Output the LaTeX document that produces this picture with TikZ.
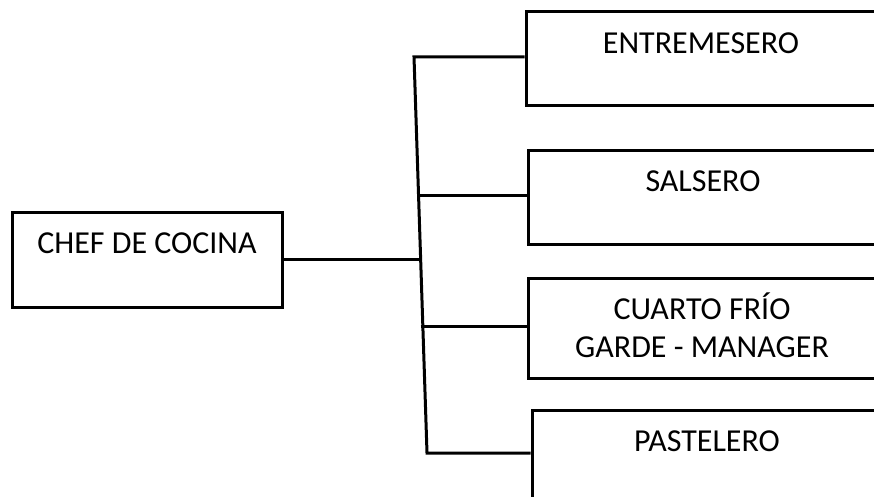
\documentclass[tikz,border=0pt]{standalone}
\usepackage{fontspec}
\setmainfont{Carlito}
\usepackage{tikz}
\usetikzlibrary{calc, positioning}

\begin{document}
\begin{tikzpicture}[
    x=1pt, y=-1pt,
    line/.style={line width=3pt},
    box/.style={rectangle, draw, line width=3pt, inner sep=0pt},
    lbl/.style={inner sep=0pt, anchor=base, align=center,
                font=\fontsize{32}{38}\selectfont}
]
    \clip (0,0) rectangle (874,497);
    \fill[white] (0,0) rectangle (874,497);

    % Chef
    \node[box, minimum width=270pt, minimum height=95pt] (chef) at (147,259.5) {};
    \node[lbl] (tchef) at ([yshift=-43pt]chef.north) {CHEF DE COCINA};

    % Stations
    \node[box, minimum width=354pt, minimum height=94pt] (entr) at (703,59) {};
    \node[lbl] (tentr) at ([xshift=-2pt, yshift=-43pt]entr.north) {ENTREMESERO};

    \node[box, minimum width=352pt, minimum height=93pt] (sals) at (704,197.5) {};
    \node[lbl] (tsals) at ([xshift=-1pt, yshift=-42pt]sals.north) {SALSERO};

    \node[box, minimum width=352pt, minimum height=100pt] (cuar) at (704,328) {};
    \node[lbl] (tcuar) at ([xshift=-2pt, yshift=-81pt]cuar.north) {CUARTO FRÍO\\GARDE - MANAGER};

    \node[box, minimum width=348pt, minimum height=96pt] (past) at (706,458) {};
    \node[lbl] (tpast) at ([xshift=1pt, yshift=-43pt]past.north) {PASTELERO};

    % Trunk and branches
    \coordinate (top) at (414,57);
    \coordinate (bot) at (427,453);
    \coordinate (bchef) at (419,259.5);
    \coordinate (bsals) at (418.5,195);
    \coordinate (bcuar) at (420.7,326);

    \draw[line] (top -| entr.west) -- (top) -- (bot) -- (bot -| past.west);
    \draw[line] (chef.east) -- (bchef);
    \draw[line] (bsals) -- (bsals -| sals.west);
    \draw[line] (bcuar) -- (bcuar -| cuar.west);
\end{tikzpicture}
\end{document}
